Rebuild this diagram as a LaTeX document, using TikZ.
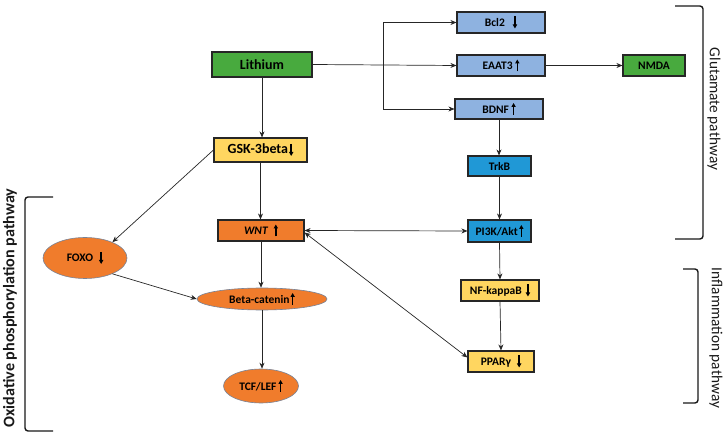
\documentclass[tikz,border=0pt]{standalone}
\usepackage{fontspec}
\usepackage{graphicx}
\setmainfont{Carlito}
\usetikzlibrary{arrows.meta,shapes.geometric}
\newcommand{\upa}{\tikz[x=1pt,y=1pt,baseline=0pt]\draw[black,line width=1.4pt,-{Triangle[length=4pt,width=4.2pt]}] (0,-1.5) -- (0,10.5);}
\newcommand{\dna}{\tikz[x=1pt,y=1pt,baseline=0pt]\draw[black,line width=1.4pt,-{Triangle[length=4pt,width=4.2pt]}] (0,10) -- (0,-2);}
\definecolor{greenC}{RGB}{72,170,62}
\definecolor{lblueC}{RGB}{142,178,224}
\definecolor{blueC}{RGB}{32,152,214}
\definecolor{yellowC}{RGB}{255,214,96}
\definecolor{orangeC}{RGB}{240,124,44}
\definecolor{ovalline}{RGB}{120,130,150}
\begin{document}
\begin{tikzpicture}[x=1pt,y=-1pt,
  box/.style={draw=black!85, line width=1.1pt, inner sep=0pt, text=black,
    font=\bfseries\fontsize{11.5}{13}\selectfont},
  oval/.style={ellipse, draw=ovalline, line width=0.6pt, fill=orangeC, inner sep=0pt,
    text=black, font=\bfseries\fontsize{11.5}{13}\selectfont},
  arr/.style={-{Stealth[length=6pt,width=5pt]}, line width=0.7pt, draw=black!85},
  darr/.style={{Stealth[length=6pt,width=5pt]}-{Stealth[length=6pt,width=5pt]}, line width=0.7pt, draw=black!85},
  brace/.style={line width=1.4pt, draw=black!90, rounded corners=3pt},
  side/.style={font=\fontsize{15}{18}\selectfont, text=black!90, inner sep=0pt}
]
\useasboundingbox (0,0) rectangle (726,438);

% boxes
\node[box, fill=greenC, minimum width=100pt, minimum height=25pt,
  font=\bfseries\fontsize{14}{16}\selectfont] (lith) at (262,64.5) {Lithium};
\node[box, fill=lblueC, minimum width=88pt, minimum height=21pt] (bcl) at (501,22.5) {Bcl2\hspace{8pt}\dna};
\node[box, fill=lblueC, minimum width=88pt, minimum height=21pt] (eaat) at (501,65.5) {EAAT3 \upa};
\node[box, fill=lblueC, minimum width=88pt, minimum height=20pt] (bdnf) at (499,109) {BDNF \upa};
\node[box, fill=greenC, minimum width=62pt, minimum height=21pt] (nmda) at (654,65.5) {NMDA};
\node[box, fill=yellowC, minimum width=93pt, minimum height=24pt,
  font=\bfseries\fontsize{14}{16}\selectfont] (gsk) at (260.5,150) {GSK-3beta\hspace{1pt}\dna};
\node[box, fill=orangeC, minimum width=86pt, minimum height=21pt,
  font=\bfseries\itshape\fontsize{11.5}{13}\selectfont] (wnt) at (261,230.5) {WNT\hspace{6pt}\upa};
\node[box, fill=blueC, minimum width=63pt, minimum height=20pt] (trkb) at (499.5,166) {TrkB};
\node[box, fill=blueC, minimum width=63pt, minimum height=22pt] (pi3k) at (499.5,231) {PI3K/Akt\hspace{1.5pt}\upa};
\node[box, fill=yellowC, minimum width=78pt, minimum height=21pt] (nfkb) at (500,290.5) {NF-kappaB\hspace{4pt}\dna};
\node[box, fill=yellowC, minimum width=66pt, minimum height=21pt] (ppar) at (501,361.5) {PPARγ\hspace{6pt}\dna};

% ellipses
\node[oval, minimum width=84pt, minimum height=41pt] (foxo) at (85,258) {FOXO\hspace{6pt}\dna};
\node[oval, minimum width=130pt, minimum height=22pt] (beta) at (262,299) {Beta-catenin\hspace{1pt}\upa};
\node[oval, minimum width=75pt, minimum height=34pt] (tcf) at (261,386) {TCF/LEF\hspace{2pt}\upa};

% connectors
\coordinate (br) at (383,65);
\draw[arr] (lith.east) -- (eaat.west);
\draw[arr] (br) |- (bcl.west);
\draw[arr] (br) |- (bdnf.west);
\draw[arr] (eaat.east) -- (nmda.west);
\draw[arr] (lith.south) -- (lith.south |- gsk.north);
\draw[arr] (gsk.south) -- (gsk.south |- wnt.north);
\draw[arr] (gsk.west) -- (foxo.30);
\draw[arr] (foxo.-30) -- (beta.west);
\draw[arr] (wnt.south) -- (wnt.south |- beta.north);
\draw[arr] (beta.south) -- (beta.south |- tcf.north);
\draw[darr] (wnt.east) -- (pi3k.west);
\draw[darr] ([yshift=-2pt]wnt.east) -- ([yshift=4pt]ppar.west);
\draw[arr] (bdnf.south) -- (bdnf.south |- trkb.north);
\draw[arr] (trkb.south) -- (pi3k.north);
\draw[arr] (pi3k.south) -- (nfkb.north);
\draw[arr] (nfkb.south) -- (ppar.north);

% brackets
\draw[brace] (675,6) -- (703,6) -- (703,239) -- (675,239);
\draw[brace] (683,269) -- (698,269) -- (698,403) -- (683,403);
\draw[brace] (53,197) -- (25,197) -- (25,431) -- (53,431);

\node[side, rotate=-90] (glut) at (714,109) {\resizebox{122pt}{!}{Glutamate pathway}};
\node[side, rotate=-90] (infl) at (716,338) {\resizebox{140pt}{!}{Inflammation pathway}};
\node[side, rotate=90] (oxid) at (10,308) {\resizebox{239pt}{!}{\bfseries Oxidative phosphorylation pathway}};
\end{tikzpicture}
\end{document}
